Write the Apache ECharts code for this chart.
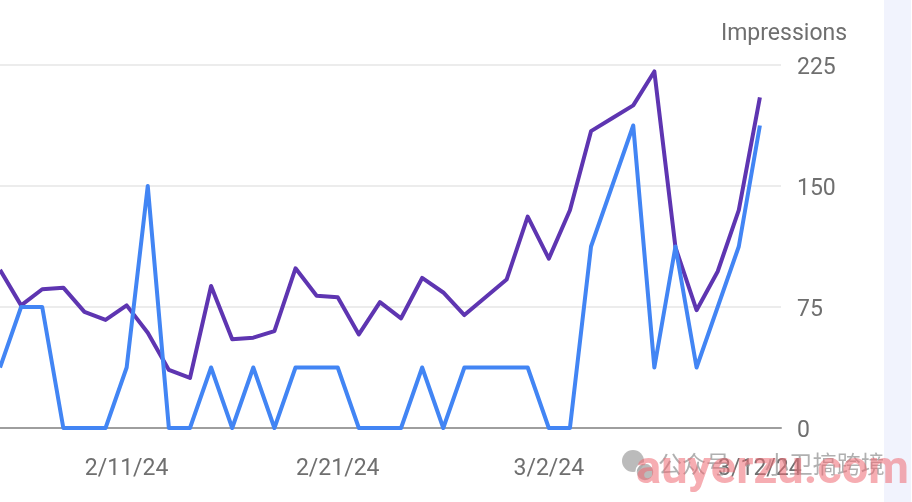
<!DOCTYPE html>
<html>
<head>
<meta charset="utf-8">
<script src="https://cdn.jsdelivr.net/npm/echarts@6/dist/echarts.min.js"></script>
<style>
html,body{margin:0;padding:0;background:#fff;}
#chart{width:912px;height:502px;}
#strip{position:absolute;left:884px;top:0;width:27px;height:502px;background:#f1f3fd;}
</style>
</head>
<body>
<div id="strip"></div>
<div id="chart"></div>
<script>
// Dates (2024), last one is an empty padding day at the right edge
var categories = ['2/5/24','2/6/24','2/7/24','2/8/24','2/9/24','2/10/24','2/11/24','2/12/24','2/13/24','2/14/24',
  '2/15/24','2/16/24','2/17/24','2/18/24','2/19/24','2/20/24','2/21/24','2/22/24','2/23/24','2/24/24',
  '2/25/24','2/26/24','2/27/24','2/28/24','2/29/24','3/1/24','3/2/24','3/3/24','3/4/24','3/5/24',
  '3/6/24','3/7/24','3/8/24','3/9/24','3/10/24','3/11/24','3/12/24','3/13/24'];
var labeledDates = ['2/11/24','2/21/24','3/2/24','3/12/24'];
var impressions = [98, 76, 86, 87, 72, 67, 76, 59, 36, 31, 88, 55, 56, 60, 99, 82, 81, 58, 78, 68,
  93, 84, 70, 81, 92, 131, 105, 135, 184, 192, 200, 221, 112, 73, 97, 135, 205, null];
var clicks = [1, 2, 2, 0, 0, 0, 1, 4, 0, 0, 1, 0, 1, 0, 1, 1, 1, 0, 0, 0,
  1, 0, 1, 1, 1, 1, 0, 0, 3, 4, 5, 1, 3, 1, 2, 3, 5, null];
var impressionTicks = [0, 75, 150, 225];

var chart = echarts.init(document.getElementById('chart'), null, {renderer: 'canvas'});
var font = 'Roboto, "Noto Sans", sans-serif';
chart.setOption({
  backgroundColor: 'transparent',
  animation: false,
  grid: {left: 0, right: 131, top: 65, bottom: 74},
  xAxis: {
    type: 'category',
    data: categories,
    boundaryGap: false,
    axisLine: {show: true, lineStyle: {color: '#9e9e9e', width: 2}},
    axisTick: {show: false},
    axisLabel: {
      interval: function (i, v) { return labeledDates.indexOf(v) >= 0; },
      color: '#6f6f6f', fontSize: 23, fontFamily: font, margin: 30
    },
    splitLine: {show: false}
  },
  yAxis: [{
    type: 'value', position: 'left', min: 0, max: 6, show: false
  }, {
    type: 'value', position: 'right',
    min: impressionTicks[0], max: impressionTicks[impressionTicks.length - 1], interval: 75,
    name: 'Impressions',
    nameLocation: 'end',
    nameGap: 31,
    nameTextStyle: {color: '#6f6f6f', fontSize: 23, fontFamily: font, align: 'center', verticalAlign: 'middle', padding: [0, 0, 0, 6]},
    axisLine: {show: false},
    axisTick: {show: false},
    axisLabel: {
      margin: 16,
      formatter: '{v|{value}}',
      rich: {v: {color: '#6f6f6f', fontSize: 23, fontFamily: font, padding: [6, 0, 0, 0]}}
    },
    splitLine: {show: true, lineStyle: {color: '#ececec', width: 2}}
  }],
  series: [{
    name: 'Impressions', type: 'line', yAxisIndex: 1, data: impressions,
    showSymbol: false, symbol: 'none',
    lineStyle: {color: '#5e35b1', width: 4, join: 'round'}, z: 3
  }, {
    name: 'Clicks', type: 'line', yAxisIndex: 0, data: clicks,
    showSymbol: false, symbol: 'none',
    lineStyle: {color: '#4285f4', width: 4, join: 'round'}, z: 4
  }],
  graphic: [
    {type: 'circle', shape: {cx: 633, cy: 461, r: 11}, style: {fill: 'rgba(170,170,170,0.8)'}, z: 100},
    {type: 'circle', shape: {cx: 645, cy: 472, r: 9}, style: {fill: 'rgba(170,170,170,0.8)', stroke: '#fff', lineWidth: 1.5}, z: 101},
    {type: 'text', left: 658, top: 452, z: 102,
      style: {text: '公众号 · 小卫搞跨境', fill: 'rgba(150,150,150,0.75)', font: '24px "Noto Sans CJK SC", sans-serif'}},
    {type: 'text', left: 636, top: 448, z: 103,
      style: {text: 'auyerzu.com', fill: 'rgba(238,105,115,0.55)', font: 'bold 47px Roboto, sans-serif'}}
  ]
});
</script>
</body>
</html>
